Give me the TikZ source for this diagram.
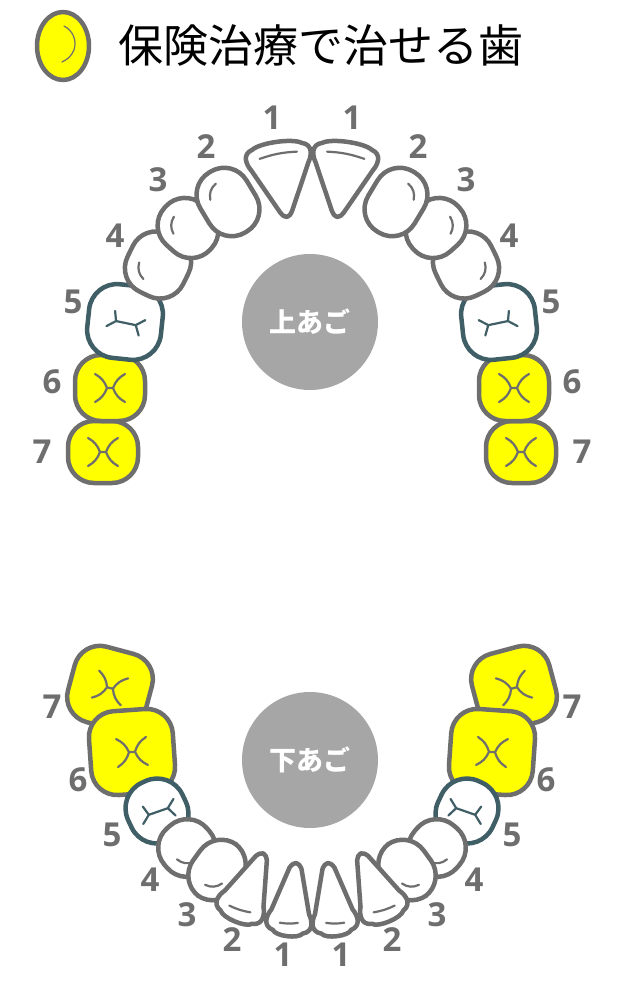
\documentclass[tikz,border=0pt]{standalone}
\usepackage{fontspec}
\setmainfont{Open Sans}
\newfontfamily\cjk{Noto Sans CJK JP}
\begin{document}
\definecolor{tgrey}{HTML}{6E6E6E}
\definecolor{tteal}{HTML}{3F5E66}
\definecolor{tyel}{HTML}{FFFF00}
\definecolor{cgrey}{HTML}{A6A6A6}
\begin{tikzpicture}[x=1pt,y=-1pt,
  tooth/.style={line width=4.5pt,draw=tgrey,fill=white,line join=round},
  groove/.style={line width=2.2pt,draw=tgrey,line cap=round},
  num/.style={font=\bfseries\fontsize{33}{35}\selectfont,text=tgrey},
  jaw/.style={circle,fill=cgrey,minimum size=136pt,text=white,font=\cjk\bfseries\fontsize{27}{29}\selectfont}]
\newcommand\incisor[5]{\begin{scope}[shift={(#1,#2)},rotate=#3]
 \draw[tooth] (-#4/2+8,-#5/2) .. controls (-#4/4,-#5/2-6) and (#4/4,-#5/2-6) .. (#4/2-8,-#5/2)
   .. controls (#4/2+3,-#5/2+3) and (#4/2,-#5/2+14) .. (#4/2-4,-#5/2+20) -- (6,#5/2-6)
   .. controls (2,#5/2+1) and (-2,#5/2+1) .. (-6,#5/2-6) -- (-#4/2+4,-#5/2+20)
   .. controls (-#4/2,-#5/2+14) and (-#4/2-3,-#5/2+3) .. cycle;
 \draw[groove] (-#4/2+14,-#5/2+10) to[bend left=8] (#4/2-14,-#5/2+8);
\end{scope}}
\newcommand\roundt[5]{\begin{scope}[shift={(#1,#2)},rotate=#3]
 \draw[tooth,rounded corners=26pt] (-#4/2,-#5/2) rectangle (#4/2,#5/2);
 \draw[groove] (-#4/2+13,-#5/2+24) to[bend left=30] (-#4/2+26,-#5/2+13);
\end{scope}}
\newcommand\premolar[5]{\begin{scope}[shift={(#1,#2)},rotate=#3]
 \draw[tooth,draw=tteal,rounded corners=28pt] (-#4/2,-#5/2) rectangle (#4/2,#5/2);
 \draw[groove,draw=tteal] (-6,-18)--(0,-9)--(10,-11) (0,-9)--(-2,11) (-12,15)--(-2,11)--(4,20);
\end{scope}}
\newcommand\molar[5]{\begin{scope}[shift={(#1,#2)},rotate=#3]
 \draw[tooth,fill=tyel,rounded corners=26pt] (-#4/2,-#5/2) rectangle (#4/2,#5/2);
 \draw[groove] (-14,-15) to[bend right=20] (0,-3) to[bend right=20] (14,-15) (0,-3)--(0,3) (-14,15) to[bend left=20] (0,3) to[bend left=20] (14,15);
\end{scope}}
\useasboundingbox (0,0) rectangle (626,982);
% title
\draw[tooth,fill=tyel] (63,46) ellipse (26 and 34);
\draw[groove,line width=1.2pt] (64,26) to[bend left=40] (74,50) to[bend left=20] (62,62);
\node[anchor=west,font=\cjk\fontsize{45}{47}\selectfont,inner sep=0] (title) at (118,45) {保険治療で治せる歯};
% upper jaw
\node[jaw] (up) at (310,322) {上あご};
\foreach \s/\m in {1/0,-1/624}{
 \begin{scope}[shift={(\m,0)},xscale=\s]
  \molar{103}{452}{90}{62}{70}
  \molar{110}{388}{90}{66}{70}
  \premolar{125}{322}{84}{74}{74}
  \roundt{158}{265}{64}{64}{62}
  \roundt{188}{228}{48}{54}{62}
  \roundt{228}{202}{31}{54}{70}
  \incisor{282}{182}{8}{66}{72}
  \molar{110}{688}{75}{78}{80}
  \molar{132}{752}{94}{84}{84}
  \premolar{157}{811}{115}{64}{60}
  \roundt{187}{848}{131}{56}{56}
  \roundt{217}{870}{144}{50}{64}
  \incisor{250}{885}{157}{50}{70}
  \incisor{292}{897}{173}{46}{70}
 \end{scope}}
\node[jaw] (low) at (310,760) {下あご};
% labels
\foreach \n/\x/\y in {1/272/118,2/206/147,3/158/180,4/115/236,5/73/302,6/52/382,7/42/452,
  7/52/707,6/78/780,5/112/835,4/150/880,3/187/915,2/232/940,1/283/955}{
  \node[num] at (\x,\y) {\n};
  \node[num] at (624-\x,\y) {\n};}
\end{tikzpicture}
\end{document}
